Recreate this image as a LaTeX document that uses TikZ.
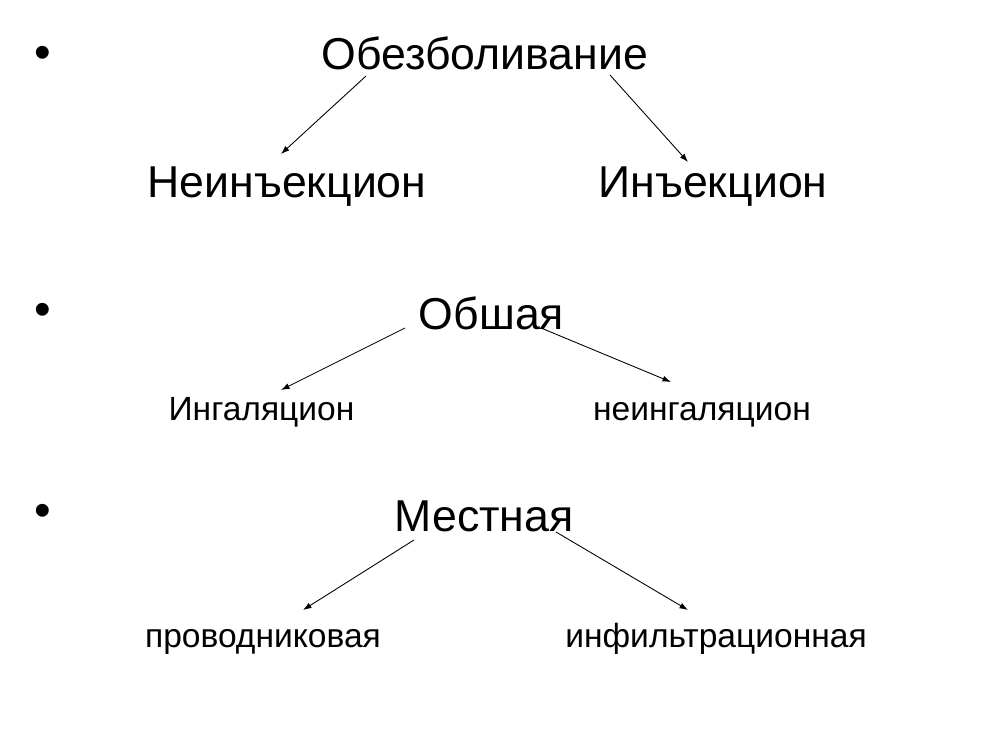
\documentclass[tikz,border=0pt]{standalone}
\usepackage{fontspec}
\setmainfont{Liberation Sans}
\usepackage{xcolor}
\usepackage{tikz}
\usetikzlibrary{arrows.meta}

\tikzset{
  big/.style={anchor=base,inner sep=0pt,font=\fontsize{25.4}{30}\selectfont},
  small/.style={anchor=base,inner sep=0pt,font=\fontsize{19.1}{22}\selectfont},
  bul/.style={anchor=base,inner sep=0pt,font=\fontsize{27}{30}\selectfont},
  arr/.style={black,->,>={Latex[length=1.7mm,width=1.2mm]},line width=0.5pt}
}

\begin{document}
\begin{tikzpicture}[scale=1]
\useasboundingbox[fill=white](0,0) rectangle (20,15);
% bullets
\node[bul](B1)at(0.86,13.62){•};
\node[bul](B2)at(0.86,8.48){•};
\node[bul](B3)at(0.86,4.48){•};
% first row
\node[big](Obez)at(9.70,13.60){Обезболивание};
\node[big](Nein)at(5.74,11.04){Неинъекцион};
\node[big](Inj)at(14.26,11.04){Инъекцион};
% second row
\node[big](Obsh)at(9.83,8.42){Обшая};
\node[small](Ingal)at(5.23,6.60){Ингаляцион};
\node[small](Neingal)at(14.04,6.60){неингаляцион};
% third row
\node[big](Mest)at(9.68,4.38){Местная};
\node[small](Prov)at(5.26,2.06){проводниковая};
\node[small](Infil)at(14.32,2.06){инфильтрационная};
% arrow ends
\coordinate(ObezL)at(7.32,13.48);
\coordinate(ObezR)at(12.20,13.50);
\coordinate(NeinT)at(5.62,11.92);
\coordinate(InjT)at(13.76,11.76);
\coordinate(ObshL)at(8.10,8.44);
\coordinate(ObshR)at(10.82,8.44);
\coordinate(IngalT)at(5.62,7.20);
\coordinate(NeingalT)at(13.42,7.36);
\coordinate(MestL)at(8.28,4.20);
\coordinate(MestR)at(11.12,4.36);
\coordinate(ProvT)at(6.06,2.80);
\coordinate(InfilT)at(13.76,2.80);
\draw[arr](ObezL)--(NeinT);
\draw[arr](ObezR)--(InjT);
\draw[arr](ObshL)--(IngalT);
\draw[arr](ObshR)--(NeingalT);
\draw[arr](MestL)--(ProvT);
\draw[arr](MestR)--(InfilT);
\end{tikzpicture}
\end{document}
